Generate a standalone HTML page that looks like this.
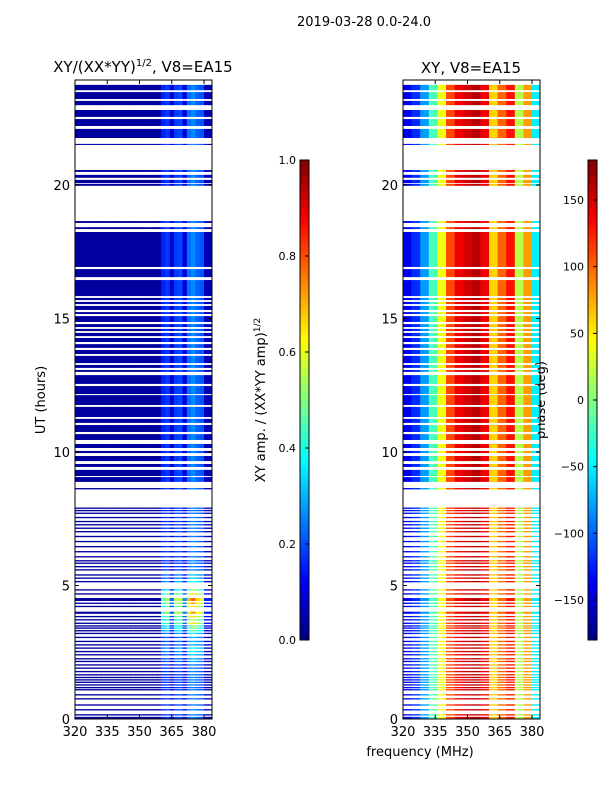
<!DOCTYPE html>
<html><head><meta charset="utf-8"><style>
body{margin:0;background:#fff;width:600px;height:800px;overflow:hidden}
svg{display:block;font-family:"DejaVu Sans","Liberation Sans",sans-serif}
</style></head><body>
<svg id="fig" width="600" height="800" xmlns="http://www.w3.org/2000/svg">
<rect width="600" height="800" fill="#fff"/>
<text x="364" y="26" font-size="13" text-anchor="middle">2019-03-28 0.0-24.0</text>
<text x="143" y="72" font-size="15" text-anchor="middle">XY/(XX*YY)<tspan font-size="10" dy="-6">1/2</tspan><tspan dy="6">, V8=EA15</tspan></text>
<text x="471" y="73" font-size="15" text-anchor="middle">XY, V8=EA15</text>
<text transform="translate(45,400) rotate(-90)" font-size="13" text-anchor="middle">UT (hours)</text>
<text x="420" y="756" font-size="13" text-anchor="middle">frequency (MHz)</text>
<text transform="translate(265,400) rotate(-90)" font-size="13" text-anchor="middle">XY amp. / (XX*YY amp)<tspan font-size="9" dy="-5">1/2</tspan></text>
<text transform="translate(545,400) rotate(-90)" font-size="13" text-anchor="middle">phase (deg)</text>
<g id="layer"></g>
</svg>
<script>
// time bands [startHour, endHour, gain]
const bands = [
[23.55,23.75,1],[23.22,23.48,1],[22.99,23.15,1],[22.55,22.81,1],[22.21,22.47,1],[21.76,22.1,1],[21.5,21.54,1],
[20.49,20.56,1],[20.27,20.38,1],[20.07,20.19,1],[19.97,20.04,1],
[18.58,18.65,1],[18.35,18.42,1],[16.93,18.24,1],[16.55,16.85,1],[15.84,16.44,1],
[15.69,15.77,1],[15.54,15.62,1],[15.32,15.47,1],[15.17,15.24,1],[14.87,15.09,1],[14.68,14.79,1],[14.53,14.61,1],
[14.34,14.46,1],[14.12,14.27,1],[13.9,14.04,1],[13.67,13.82,1],[13.33,13.6,1],[13.15,13.26,1],[13.0,13.07,1],
[12.55,12.88,1],[12.17,12.47,1],[11.76,12.13,1],[11.31,11.69,1],[11.09,11.24,1],[10.75,11.01,1],[10.45,10.67,1],
[10.15,10.3,1],[9.96,10.04,1],[9.66,9.85,1],[9.44,9.55,1],[9.1,9.33,1],[8.88,9.06,1],[8.6,8.65,1],
[7.87,7.92,1],[7.78,7.83,1],[7.68,7.73,1],[7.52,7.57,1],[7.37,7.42,1],[7.25,7.3,1],[7.12,7.17,1],[6.99,7.04,1],
[6.81,6.86,1],[6.62,6.67,1],[6.43,6.48,1],[6.24,6.29,1],[6.05,6.1,1],[5.9,5.95,1],[5.81,5.86,1],[5.68,5.73,1],
[5.56,5.61,1],[5.37,5.42,1.3],[5.25,5.3,1.3],[5.12,5.17,1.6],[4.81,4.86,2],[4.66,4.71,2.5],[4.42,4.53,3],
[4.31,4.36,2.8],[4.19,4.24,2.5],[3.94,4.02,2.8],[3.81,3.86,2.5],[3.69,3.74,2.2],[3.56,3.61,2.5],[3.46,3.51,2],
[3.38,3.43,2],[3.28,3.33,1.8],[3.18,3.23,1.5],[3.03,3.08,1.2],[2.88,2.93,1.2],[2.75,2.8,1.2],[2.63,2.68,1.5],
[2.5,2.55,1.5],[2.38,2.43,1.3],[2.23,2.28,1.2],[2.13,2.18,1.2],[2.0,2.05,1],[1.88,1.93,1],[1.75,1.8,1],
[1.63,1.68,1],[1.53,1.58,1],[1.44,1.49,1],[1.35,1.4,1],[1.25,1.3,1],[1.15,1.2,1],[1.07,1.12,1],[0.88,0.93,1],
[0.73,0.78,1],[0.5,0.55,1],[0.32,0.37,1],[0.13,0.18,1],[0.02,0.08,1]
];
// amplitude per 2 MHz column from 320 to 384
const ampCols = [0.03,0.03,0.03,0.03,0.03,0.03,0.03,0.03,0.03,0.03,0.03,0.03,0.03,0.03,0.03,0.03,0.03,0.03,0.03,0.03,
0.12,0.14,0.06,0.14,0.15,0.07,0.18,0.2,0.17,0.16,0.04,0.04];
// phase (deg) per 4 MHz column from 320 to 384
const phaseCols = [-140,-120,-80,-20,40,110,140,150,160,140,60,100,130,20,80,-50];
const yTicks = [0,5,10,15,20];
const xTicks = [320,335,350,365,380];
const ampTicks = [0.0,0.2,0.4,0.6,0.8,1.0];
const phaseTicks = [-150,-100,-50,0,50,100,150];

const NS="http://www.w3.org/2000/svg";
const layer=document.getElementById('layer');
function mk(t,a,p){const e=document.createElementNS(NS,t);for(const k in a)e.setAttribute(k,a[k]);(p||layer).appendChild(e);return e;}
function jet(v){v=Math.max(0,Math.min(1,v));
 const r=Math.max(0,Math.min(1,1.5-Math.abs(4*v-3))),g=Math.max(0,Math.min(1,1.5-Math.abs(4*v-2))),b=Math.max(0,Math.min(1,1.5-Math.abs(4*v-1)));
 return `rgb(${Math.round(r*255)},${Math.round(g*255)},${Math.round(b*255)})`;}
const Y0=719,YH=26.7;
function yS(h){return Y0-h*YH;}
const panels=[{x0:75,x1:212,name:'amp'},{x0:403,x1:540,name:'phase'}];
function xS(p,f){return p.x0+(f-320)*2.15;}
panels.forEach(p=>{
 const g=mk('g',{});
 
 
 bands.forEach(b=>{
  const y1=yS(b[1]),y2=yS(b[0]);
  if(p.name==='amp'){
   ampCols.forEach((v,i)=>{
    const fa=320+i*2,fb=fa+2;
    const xa=xS(p,fa),xb=Math.min(p.x1,xS(p,fb));
    const val=i>=20?v*b[2]*1.3:v;
    const r=mk('rect',{x:xa,y:y1,width:xb-xa+0.3,height:y2-y1,fill:jet(val)},g);
    
    
   });
  } else {
   phaseCols.forEach((v,i)=>{
    const fa=320+i*4,fb=fa+4;
    const xa=xS(p,fa),xb=Math.min(p.x1,xS(p,fb));
    const r=mk('rect',{x:xa,y:y1,width:xb-xa+0.3,height:y2-y1,fill:jet((v+180)/360)},g);
    
    
   });
  }
 });
 const fr=mk('rect',{x:p.x0,y:80,width:p.x1-p.x0,height:639,fill:'none',stroke:'#000','stroke-width':1});
 
 
 yTicks.forEach(t=>{
  const y=yS(t);
  mk('line',{x1:p.x0,x2:p.x0+4,y1:y,y2:y,stroke:'#000'});
  mk('line',{x1:p.x1,x2:p.x1-4,y1:y,y2:y,stroke:'#000'});
  const tx=mk('text',{x:p.x0-5,y:y+5,'font-size':13,'text-anchor':'end'});
  tx.textContent=t;
  
  
 });
 xTicks.forEach(t=>{
  const x=xS(p,t);
  mk('line',{x1:x,x2:x,y1:719,y2:715,stroke:'#000'});
  mk('line',{x1:x,x2:x,y1:80,y2:84,stroke:'#000'});
  const tx=mk('text',{x:x,y:736,'font-size':13,'text-anchor':'middle'});
  tx.textContent=t;
  
  
 });
});
// colorbars
const cbs=[{x:300,ticks:ampTicks,min:0,max:1,name:'amp-colorbar',fmt:v=>v.toFixed(1)},
 {x:588,ticks:phaseTicks,min:-180,max:180,name:'phase-colorbar',fmt:v=>String(v).replace('-','\u2212')}];
cbs.forEach(c=>{
 const g=mk('g',{});
 
 
 for(let i=0;i<96;i++){
  mk('rect',{x:c.x,y:640-(i+1)*5,width:9,height:5.4,fill:jet((i+0.5)/96)},g);
 }
 mk('rect',{x:c.x,y:160,width:9,height:480,fill:'none',stroke:'#000'},g);
 c.ticks.forEach(t=>{
  const y=640-(t-c.min)/(c.max-c.min)*480;
  mk('line',{x1:c.x+9,x2:c.x+5,y1:y,y2:y,stroke:'#000'},g);
  const tx=mk('text',{x:c.x-4,y:y+4,'font-size':11,'text-anchor':'end'},g);
  tx.textContent=c.fmt(t);
  
  
 });
});
</script>
</body></html>
